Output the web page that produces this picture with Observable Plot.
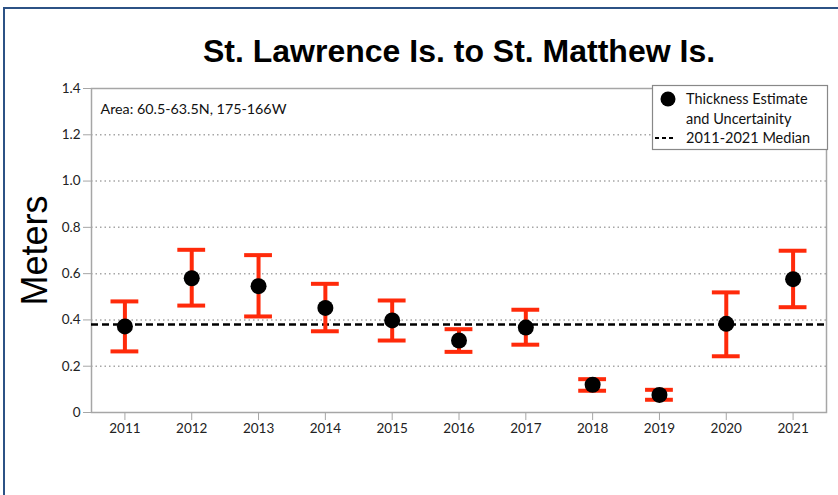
<!DOCTYPE html>
<html><head><meta charset="utf-8">
<script src="https://cdn.jsdelivr.net/npm/d3@7"></script>
<script src="https://cdn.jsdelivr.net/npm/@observablehq/plot@0.6"></script>
<style>
body{margin:0;background:#fff;}
#wrap{position:relative;width:838px;height:495px;overflow:hidden;background:#fff;}
#border{position:absolute;left:3px;top:7px;width:900px;height:600px;border:2px solid #2c5285;}
#chart{position:absolute;left:0;top:0;}
</style></head><body>
<div id="wrap"><div id="border"></div><div id="chart"></div></div>
<script>
const years = [2011, 2012, 2013, 2014, 2015, 2016, 2017, 2018, 2019, 2020, 2021];
const estimate = [0.372, 0.580, 0.546, 0.452, 0.398, 0.311, 0.367, 0.120, 0.076, 0.383, 0.576];
const lower = [0.264, 0.462, 0.415, 0.351, 0.311, 0.262, 0.293, 0.094, 0.055, 0.243, 0.455];
const upper = [0.480, 0.703, 0.680, 0.556, 0.484, 0.360, 0.444, 0.144, 0.098, 0.519, 0.699];
const median = 0.38;
const yTicks = [0, 0.2, 0.4, 0.6, 0.8, 1.0, 1.2, 1.4];
const gridValues = [0.2, 0.4, 0.6, 0.8, 1.0, 1.2];
const titleText = "St. Lawrence Is. to St. Matthew Is.";
const yLabel = "Meters";
const areaText = "Area: 60.5-63.5N, 175-166W";
const legendLines = ["Thickness Estimate", "and Uncertainity", "2011-2021 Median"];

const data = years.map((y, i) => ({year: y, est: estimate[i], lo: lower[i], hi: upper[i]}));
const red = "#ff2a0a";
const gray = "#a6a6a6";

const chart = Plot.plot({
  width: 838, height: 495,
  marginLeft: 91, marginRight: 12, marginTop: 88, marginBottom: 83,
  style: {background: "transparent", fontFamily: "Lato, sans-serif", fontSize: "13.5px", color: "#222", overflow: "visible"},
  x: {type: "band", domain: years, padding: 0, round: false, label: null},
  y: {domain: [0, 1.4], label: null},
  marks: [
    Plot.ruleY(gridValues, {stroke: gray, strokeWidth: 1.5, strokeDasharray: "1.5,3"}),
    Plot.frame({stroke: gray, strokeWidth: 1.5}),
    Plot.axisX({tickSize: 8, tickPadding: 3, stroke: gray, fill: "#222", fontSize: 13.5, label: null, tickFormat: d => String(d)}),
    Plot.axisY({ticks: yTicks, tickSize: 8, tickPadding: 3, stroke: gray, fill: "#222", fontSize: 13.5, label: null,
      tickFormat: d => d === 0 ? "0" : d3.format(".1f")(d)}),
    Plot.ruleY([median], {stroke: "#000", strokeWidth: 2.5, strokeDasharray: "7,4"}),
    Plot.ruleX(data, {x: "year", y1: "lo", y2: "hi", stroke: red, strokeWidth: 4}),
    Plot.tickY(data, {x: "year", y: "hi", stroke: red, strokeWidth: 4, insetLeft: 19.5, insetRight: 19.5}),
    Plot.tickY(data, {x: "year", y: "lo", stroke: red, strokeWidth: 4, insetLeft: 19.5, insetRight: 19.5}),
    Plot.dot(data, {x: "year", y: "est", r: 8, fill: "#000"}),
    Plot.text([titleText], {frameAnchor: "top", dy: -37, lineAnchor: "middle", textAnchor: "middle", fontFamily: "Liberation Sans, Arial, sans-serif", fontWeight: "bold", fontSize: 32, fill: "#000"}),
    Plot.text([yLabel], {frameAnchor: "left", dx: -56, rotate: -90, textAnchor: "middle", lineAnchor: "middle", fontFamily: "Liberation Sans, Arial, sans-serif", fontSize: 36, fill: "#000"}),
    Plot.text([areaText], {frameAnchor: "top-left", dx: 9, dy: 21, textAnchor: "start", lineAnchor: "middle", fontSize: 14.3, fill: "#111"})
  ]
});
document.getElementById("chart").appendChild(chart);

// Legend
const svg = d3.select(chart);
const lg = svg.append("g");
lg.append("rect").attr("x", 652.5).attr("y", 85.5).attr("width", 175).attr("height", 64)
  .attr("fill", "#fff").attr("stroke", "#888").attr("stroke-width", 1.2);
lg.append("circle").attr("cx", 668).attr("cy", 99).attr("r", 7.5).attr("fill", "#000");
lg.append("line").attr("x1", 655).attr("x2", 675).attr("y1", 138).attr("y2", 138)
  .attr("stroke", "#000").attr("stroke-width", 2).attr("stroke-dasharray", "4,3");
legendLines.forEach((t, i) => {
  lg.append("text").attr("x", 686).attr("y", 99 + i * 19.5).attr("dy", "0.35em")
    .attr("text-anchor", "start")
    .attr("font-family", "Lato, sans-serif").attr("font-size", 14.5).attr("fill", "#111").text(t);
});
</script>
</body></html>
